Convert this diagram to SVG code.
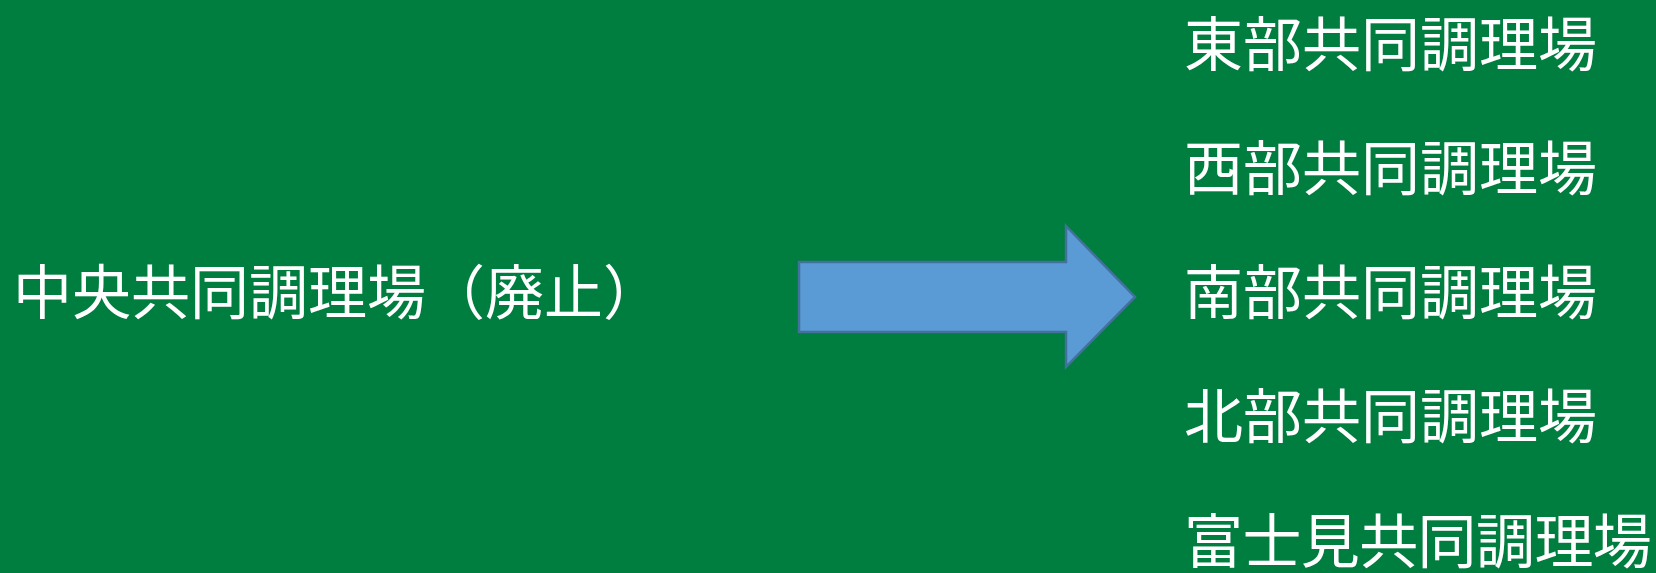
<svg xmlns="http://www.w3.org/2000/svg" width="1656" height="573" viewBox="0 0 1656 573">
<style>
.t{font-family:"Noto Sans CJK JP","Noto Sans CJK SC",sans-serif;font-size:59px;fill:#ffffff;}
.arrow{fill:#5B9BD5;stroke:#41719C;stroke-width:2.5;}
</style>
<rect x="0" y="0" width="1656" height="573" fill="#007E3F"/>
<g id="old"><text class="t" x="13" y="314">中央共同調理場（廃止）</text></g>
<g id="connectors"><polygon class="arrow" points="799,262 1066,262 1066,226 1135,297 1066,367 1066,332 799,332"/></g>
<g id="east"><text class="t" x="1184" y="66">東部共同調理場</text></g>
<g id="west"><text class="t" x="1184" y="190">西部共同調理場</text></g>
<g id="south"><text class="t" x="1184" y="314">南部共同調理場</text></g>
<g id="north"><text class="t" x="1184" y="438">北部共同調理場</text></g>
<g id="fujimi"><text class="t" x="1184" y="563" letter-spacing="-0.6">富士見共同調理場</text></g>
</svg>
